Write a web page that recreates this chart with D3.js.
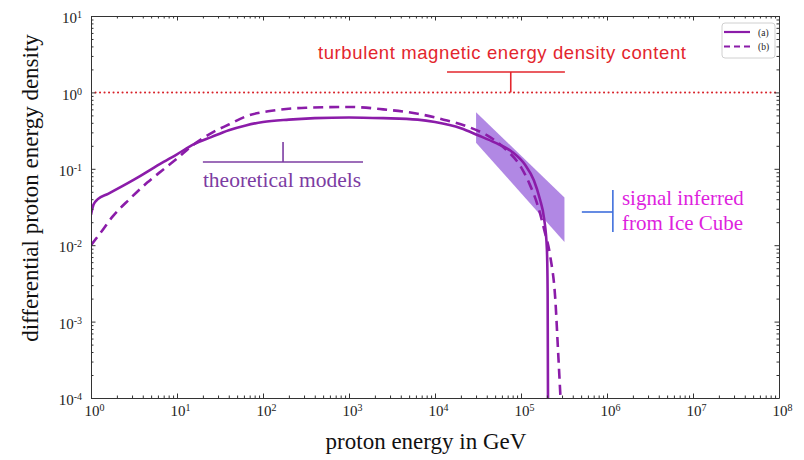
<!DOCTYPE html>
<html>
<head>
<meta charset="utf-8">
<script src="https://cdn.jsdelivr.net/npm/d3@7"></script>
<style>
  html, body { margin: 0; padding: 0; background: #fff; }
  svg { display: block; }
</style>
</head>
<body>
<svg id="chart" width="804" height="460"></svg>
<script>
// ---------- data ----------
const decadeTicksX = [1e0, 1e1, 1e2, 1e3, 1e4, 1e5, 1e6, 1e7, 1e8];
const decadeTicksY = [1e-4, 1e-3, 1e-2, 1e-1, 1e0, 1e1];

// model (a) — solid
const energyA  = [1, 1.07, 1.2, 1.58, 3.16, 6.3, 10, 15.8, 25, 40, 63, 100, 200, 400, 1000, 2500, 6300, 10000, 20000, 31600, 50000, 79000, 112000, 141000, 166000, 186000, 200000, 204000, 206000];
const densityA = [0.025, 0.034, 0.040, 0.047, 0.072, 0.115, 0.155, 0.21, 0.26, 0.32, 0.37, 0.41, 0.44, 0.46, 0.47, 0.46, 0.44, 0.41, 0.34, 0.275, 0.22, 0.166, 0.112, 0.071, 0.040, 0.022, 0.0089, 0.0025, 0.0001];

// model (b) — dashed
const energyB  = [1, 1.26, 1.8, 2.8, 4.5, 7.1, 10.7, 14.1, 26, 40, 65, 126, 316, 1000, 2500, 6300, 12600, 25000, 40000, 63000, 100000, 126000, 158000, 186000, 219000, 251000, 269000, 288000];
const densityB = [0.010, 0.014, 0.024, 0.040, 0.066, 0.10, 0.145, 0.19, 0.30, 0.38, 0.49, 0.575, 0.63, 0.645, 0.60, 0.525, 0.44, 0.35, 0.275, 0.19, 0.105, 0.063, 0.032, 0.016, 0.0071, 0.0019, 0.00044, 0.0001];

// IceCube inferred signal band
const bandEnergy = [30000, 320000];
const bandLow    = [0.22, 0.011];
const bandHigh   = [0.55, 0.042];

// turbulent magnetic energy density level
const magEnergy  = [1, 1e8];
const magDensity = [1, 1];

// ---------- layout ----------
const W = 804, H = 460;
const margin = { left: 91, right: 25, top: 16, bottom: 62 };
const svg = d3.select("#chart");

const x = d3.scaleLog().domain([1, 1e8]).range([margin.left, W - margin.right]);
const y = d3.scaleLog().domain([1e-4, 10]).range([H - margin.bottom, margin.top]);

const curveColor = "#8b1ca9";
const serif = "'Liberation Serif', 'Times New Roman', serif";

// minor ticks
const minorX = [];
for (let d = 0; d < 8; d++) for (let k = 2; k <= 9; k++) minorX.push(k * Math.pow(10, d));
const minorY = [];
for (let d = -4; d < 1; d++) for (let k = 2; k <= 9; k++) minorY.push(+(k * Math.pow(10, d)).toPrecision(3));

svg.append("defs").append("clipPath").attr("id", "plotclip")
  .append("rect")
  .attr("x", x.range()[0]).attr("y", y.range()[1])
  .attr("width", x.range()[1] - x.range()[0])
  .attr("height", y.range()[0] - y.range()[1]);

// ---------- marks ----------
const plot = svg.append("g").attr("clip-path", "url(#plotclip)");

// magnetic energy level (dotted)
plot.append("path")
  .datum(magEnergy.map((e, i) => [e, magDensity[i]]))
  .attr("d", d3.line().x(d => x(d[0])).y(d => y(d[1])))
  .attr("fill", "none").attr("stroke", "#d8232a").attr("stroke-width", 2)
  .attr("stroke-linecap", "round")
  .attr("stroke-dasharray", "0.1,4.4");

// band
plot.append("path")
  .datum(bandEnergy.map((e, i) => [e, bandLow[i], bandHigh[i]]))
  .attr("d", d3.area().x(d => x(d[0])).y0(d => y(d[1])).y1(d => y(d[2])))
  .attr("fill", "#9055d8").attr("fill-opacity", 0.7).attr("stroke", "none");

const lineGen = d3.line().x(d => x(d[0])).y(d => y(d[1])).curve(d3.curveMonotoneX);

plot.append("path")
  .datum(energyB.map((e, i) => [e, densityB[i]]))
  .attr("d", lineGen)
  .attr("fill", "none").attr("stroke", curveColor).attr("stroke-width", 2.6)
  .attr("stroke-dasharray", "10,6");

plot.append("path")
  .datum(energyA.map((e, i) => [e, densityA[i]]))
  .attr("d", lineGen)
  .attr("fill", "none").attr("stroke", curveColor).attr("stroke-width", 2.6);

// ---------- axes ----------
const axisColor = "#333";
function styleAxis(g) {
  g.select(".domain").attr("stroke", axisColor);
  g.selectAll(".tick line").attr("stroke", axisColor);
}
function supLabel(sel, anchor) {
  sel.each(function(d) {
    const t = d3.select(this);
    const exp = Math.round(Math.log10(d));
    t.text(null).attr("text-anchor", anchor)
      .attr("font-family", serif).attr("font-size", 15).attr("fill", "#222");
    t.append("tspan").text("10");
    t.append("tspan").attr("dy", "-0.5em").attr("font-size", 10).text(String(exp));
  });
}

const bottomY = y.range()[0], topY = y.range()[1];
const leftX = x.range()[0], rightX = x.range()[1];

// bottom
const gB = svg.append("g").attr("transform", `translate(0,${bottomY})`)
  .call(d3.axisBottom(x).tickValues(decadeTicksX).tickSizeInner(-4.5).tickSizeOuter(0).tickPadding(7));
styleAxis(gB);
gB.selectAll(".tick text").call(supLabel, "middle");
gB.selectAll(".tick text").attr("dx", "0.2em");
svg.append("g").attr("transform", `translate(0,${bottomY})`)
  .call(d3.axisBottom(x).tickValues(minorX).tickSizeInner(-2.5).tickSizeOuter(0).tickFormat(""))
  .call(g => { g.select(".domain").remove(); g.selectAll(".tick line").attr("stroke", axisColor); });

// top
const gT = svg.append("g").attr("transform", `translate(0,${topY})`)
  .call(d3.axisTop(x).tickValues(decadeTicksX).tickSizeInner(-4.5).tickSizeOuter(0).tickFormat(""));
styleAxis(gT);
svg.append("g").attr("transform", `translate(0,${topY})`)
  .call(d3.axisTop(x).tickValues(minorX).tickSizeInner(-2.5).tickSizeOuter(0).tickFormat(""))
  .call(g => { g.select(".domain").remove(); g.selectAll(".tick line").attr("stroke", axisColor); });

// left
const gL = svg.append("g").attr("transform", `translate(${leftX},0)`)
  .call(d3.axisLeft(y).tickValues(decadeTicksY).tickSizeInner(-4.5).tickSizeOuter(0).tickPadding(9));
styleAxis(gL);
gL.selectAll(".tick text").call(supLabel, "end");
gL.selectAll(".tick text").attr("dy", "0.45em");
svg.append("g").attr("transform", `translate(${leftX},0)`)
  .call(d3.axisLeft(y).tickValues(minorY).tickSizeInner(-2.5).tickSizeOuter(0).tickFormat(""))
  .call(g => { g.select(".domain").remove(); g.selectAll(".tick line").attr("stroke", axisColor); });

// right
const gR = svg.append("g").attr("transform", `translate(${rightX},0)`)
  .call(d3.axisRight(y).tickValues(decadeTicksY).tickSizeInner(-4.5).tickSizeOuter(0).tickFormat(""));
styleAxis(gR);
svg.append("g").attr("transform", `translate(${rightX},0)`)
  .call(d3.axisRight(y).tickValues(minorY).tickSizeInner(-2.5).tickSizeOuter(0).tickFormat(""))
  .call(g => { g.select(".domain").remove(); g.selectAll(".tick line").attr("stroke", axisColor); });

// axis titles
svg.append("text")
  .attr("x", 426).attr("y", 449)
  .attr("text-anchor", "middle")
  .attr("font-family", serif).attr("font-size", 23).attr("fill", "#111")
  .text("proton energy in GeV");

svg.append("text")
  .attr("transform", "translate(38,188) rotate(-90)")
  .attr("text-anchor", "middle")
  .attr("font-family", serif).attr("font-size", 23).attr("fill", "#111")
  .text("differential proton energy density");

// ---------- annotations (anchored in data coordinates) ----------
const ann = svg.append("g");

// turbulent magnetic energy
const redCol = "#e3262d";
ann.append("line").attr("x1", x(1.38e4)).attr("x2", x(3.24e5)).attr("y1", y(1.85)).attr("y2", y(1.85))
  .attr("stroke", redCol).attr("stroke-width", 1.6);
ann.append("line").attr("x1", x(7.6e4)).attr("x2", x(7.6e4)).attr("y1", y(1.85)).attr("y2", y(1))
  .attr("stroke", redCol).attr("stroke-width", 1.6);
ann.append("text").attr("x", x(6e4)).attr("y", y(2.74))
  .attr("text-anchor", "middle")
  .attr("font-family", "'Liberation Sans', Arial, sans-serif").attr("font-size", 18.5)
  .attr("textLength", 368).attr("lengthAdjust", "spacing")
  .attr("fill", redCol)
  .text("turbulent magnetic energy density content");

// theoretical models
const purpCol = "#7c3ca2";
ann.append("line").attr("x1", x(20)).attr("x2", x(1455)).attr("y1", y(0.123)).attr("y2", y(0.123))
  .attr("stroke", purpCol).attr("stroke-width", 1.6);
ann.append("line").attr("x1", x(171)).attr("x2", x(171)).attr("y1", y(0.123)).attr("y2", y(0.224))
  .attr("stroke", purpCol).attr("stroke-width", 1.6);
ann.append("text").attr("x", x(20)).attr("y", y(0.0578))
  .attr("font-family", serif).attr("font-size", 21.5).attr("fill", purpCol)
  .text("theoretical models");

// IceCube signal
const blueCol = "#3f6fdc";
const magCol = "#de1fde";
ann.append("line").attr("x1", x(1.17e6)).attr("x2", x(1.17e6)).attr("y1", y(0.0528)).attr("y2", y(0.0149))
  .attr("stroke", blueCol).attr("stroke-width", 1.6);
ann.append("line").attr("x1", x(5.1e5)).attr("x2", x(1.17e6)).attr("y1", y(0.0272)).attr("y2", y(0.0272))
  .attr("stroke", blueCol).attr("stroke-width", 1.6);
ann.append("text").attr("x", x(1.49e6)).attr("y", y(0.0336))
  .attr("font-family", serif).attr("font-size", 21).attr("fill", magCol)
  .text("signal inferred");
ann.append("text").attr("x", x(1.49e6)).attr("y", y(0.0158))
  .attr("font-family", serif).attr("font-size", 21).attr("fill", magCol)
  .text("from Ice Cube");

// ---------- legend ----------
const leg = svg.append("g").attr("transform", "translate(722,23)");
leg.append("rect").attr("width", 53).attr("height", 35).attr("rx", 3)
  .attr("fill", "#fff").attr("stroke", "#d0d0d0").attr("stroke-width", 1);
const legItems = [{ label: "(a)", dash: null }, { label: "(b)", dash: "6,4" }];
legItems.forEach((it, i) => {
  const gy = 9 + i * 14.5;
  leg.append("line").attr("x1", 2).attr("x2", 28).attr("y1", gy).attr("y2", gy)
    .attr("stroke", curveColor).attr("stroke-width", 2.2)
    .attr("stroke-dasharray", it.dash);
  leg.append("text").attr("x", 36).attr("y", gy + 3.5)
    .attr("font-family", serif).attr("font-size", 9.5).attr("fill", "#222")
    .text(it.label);
});
</script>
</body>
</html>
